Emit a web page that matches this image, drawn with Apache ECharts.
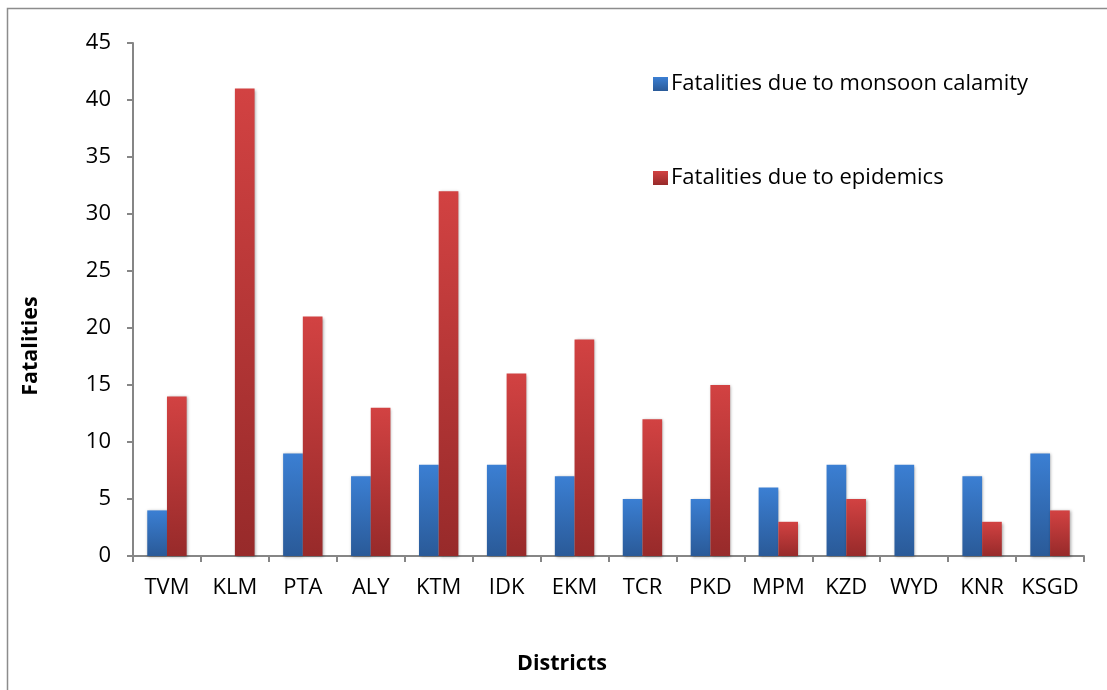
<!DOCTYPE html>
<html>
<head>
<meta charset="utf-8">
<script src="https://cdn.jsdelivr.net/npm/echarts@6/dist/echarts.min.js"></script>
<style>
  html, body { margin: 0; padding: 0; background: #fff; }
  #chart { width: 1107px; height: 690px; }
</style>
</head>
<body>
<div id="chart"></div>
<script>
// District codes along the x axis
const districts = ['TVM', 'KLM', 'PTA', 'ALY', 'KTM', 'IDK', 'EKM', 'TCR', 'PKD', 'MPM', 'KZD', 'WYD', 'KNR', 'KSGD'];
// Deaths per district
const monsoonFatalities = [4, 0, 9, 7, 8, 8, 7, 5, 5, 6, 8, 8, 7, 9];
const epidemicFatalities = [14, 41, 21, 13, 32, 16, 19, 12, 15, 3, 5, 0, 3, 4];
const seriesNames = ['Fatalities due to monsoon calamity', 'Fatalities due to epidemics'];
const xTitle = 'Districts';
const yTitle = 'Fatalities';

const font = '"Open Sans", Lato, sans-serif';

function vGrad(top, bottom) {
  return new echarts.graphic.LinearGradient(0, 0, 0, 1, [
    { offset: 0, color: top },
    { offset: 1, color: bottom }
  ]);
}
const blue = vGrad('#3b7fd3', '#2a5a98');
const red = vGrad('#d24242', '#972a2a');

const barShadow = {
  shadowBlur: 3,
  shadowColor: 'rgba(0,0,0,0.35)',
  shadowOffsetX: 1,
  shadowOffsetY: 1
};

const chart = echarts.init(document.getElementById('chart'), null, { renderer: 'canvas' });

chart.setOption({
  animation: false,
  backgroundColor: '#fff',
  graphic: [
    {
      type: 'rect',
      shape: { x: 7.5, y: 8.5, width: 1300, height: 900 },
      style: { fill: 'none', stroke: '#8c8c8c', lineWidth: 1.5 },
      silent: true
    },
    {
      type: 'text',
      x: 562,
      y: 664,
      style: {
        text: xTitle, fontFamily: font, fontSize: 21.5, fontWeight: 'bold',
        fill: '#000', align: 'center', verticalAlign: 'middle'
      },
      silent: true
    },
    {
      type: 'text',
      x: 31,
      y: 346,
      rotation: Math.PI / 2,
      style: {
        text: yTitle, fontFamily: font, fontSize: 21.5, fontWeight: 'bold',
        fill: '#000', align: 'center', verticalAlign: 'middle'
      },
      silent: true
    }
  ],
  grid: { left: 133, right: 23, top: 43, bottom: 134, containLabel: false },
  legend: {
    orient: 'vertical',
    left: 648,
    top: 68,
    itemGap: 72,
    itemWidth: 15,
    itemHeight: 14,
    icon: 'rect',
    textStyle: { fontFamily: font, fontSize: 22, color: '#000', padding: [0, 0, 0, -2] },
    data: seriesNames
  },
  xAxis: {
    type: 'category',
    data: districts,
    axisLine: { lineStyle: { color: '#868686', width: 2 } },
    axisTick: { show: true, length: 6, lineStyle: { color: '#868686', width: 2 } },
    axisLabel: { fontFamily: font, fontSize: 22, color: '#000', margin: 21, interval: 0 }
  },
  yAxis: {
    type: 'value',
    min: 0,
    max: 45,
    interval: 5,
    splitLine: { show: false },
    axisLine: { show: true, lineStyle: { color: '#868686', width: 2 } },
    axisTick: { show: true, length: 6, lineStyle: { color: '#868686', width: 2 } },
    axisLabel: { fontFamily: font, fontSize: 22, color: '#000', margin: 22 }
  },
  series: [
    {
      name: seriesNames[0],
      type: 'bar',
      data: monsoonFatalities,
      barGap: '0%',
      barCategoryGap: '42%',
      itemStyle: Object.assign({ color: blue }, barShadow)
    },
    {
      name: seriesNames[1],
      type: 'bar',
      data: epidemicFatalities,
      itemStyle: Object.assign({ color: red }, barShadow)
    }
  ]
});
</script>
</body>
</html>
